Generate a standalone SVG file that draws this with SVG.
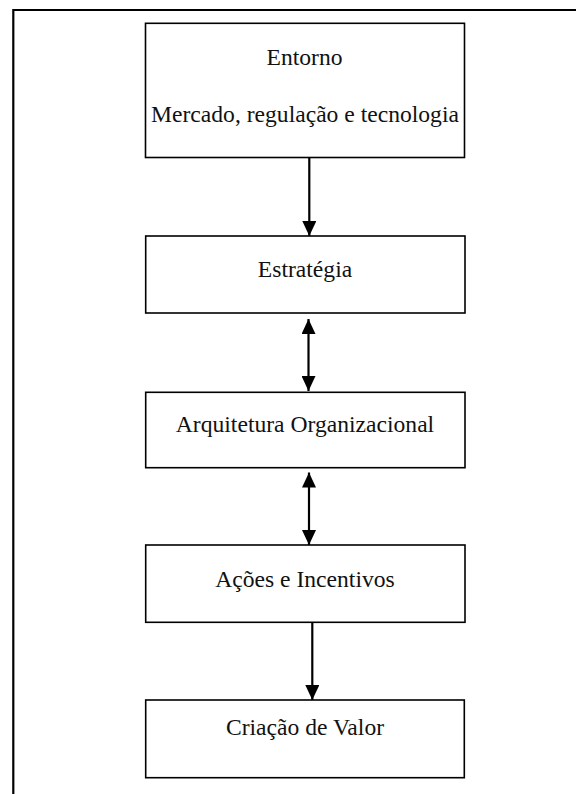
<svg xmlns="http://www.w3.org/2000/svg" width="576" height="794" viewBox="0 0 576 794">
<style>
.frame{fill:none;stroke:#000;stroke-width:2.2}
.box{fill:#fff;stroke:#000;stroke-width:1.6}
.lbl{font-family:"Liberation Serif","Times New Roman",serif;font-size:23.6px;fill:#111;text-anchor:middle}
.con{stroke:#000;stroke-width:2.2;fill:none}
</style>
<defs>
<marker id="ah" viewBox="0 0 15 14" refX="15" refY="7" markerWidth="15" markerHeight="14" markerUnits="userSpaceOnUse" orient="auto-start-reverse">
<path d="M0,0 L15,7 L0,14 Z" fill="#000"/>
</marker>
</defs>
<rect width="576" height="794" fill="#fff"/>
<path class="frame" d="M13.3,800 V10 H590"/>
<g id="connectors">
<line class="con" x1="309.3" y1="158" x2="309.3" y2="236" marker-end="url(#ah)"/>
<line class="con" x1="308.5" y1="319" x2="308.5" y2="391" marker-start="url(#ah)" marker-end="url(#ah)"/>
<line class="con" x1="309" y1="472.5" x2="309" y2="545" marker-start="url(#ah)" marker-end="url(#ah)"/>
<line class="con" x1="312.3" y1="620" x2="312.3" y2="700" marker-end="url(#ah)"/>
</g>
<g id="n1">
<rect class="box" x="145.5" y="23.3" width="319" height="134.2"/>
<text class="lbl" x="304.5" y="65">Entorno</text>
<text class="lbl" x="305" y="121.7">Mercado, regulação e tecnologia</text>
</g>
<g id="n2">
<rect class="box" x="145.7" y="236" width="319.3" height="77"/>
<text class="lbl" x="305" y="276.7">Estratégia</text>
</g>
<g id="n3">
<rect class="box" x="145.7" y="392.3" width="319.3" height="75.4"/>
<text class="lbl" x="305" y="431.7">Arquitetura Organizacional</text>
</g>
<g id="n4">
<rect class="box" x="145.7" y="545" width="319.3" height="77.3"/>
<text class="lbl" x="305" y="586.7">Ações e Incentivos</text>
</g>
<g id="n5">
<rect class="box" x="145.7" y="700" width="318.6" height="77.7"/>
<text class="lbl" x="305" y="735">Criação de Valor</text>
</g>
</svg>
